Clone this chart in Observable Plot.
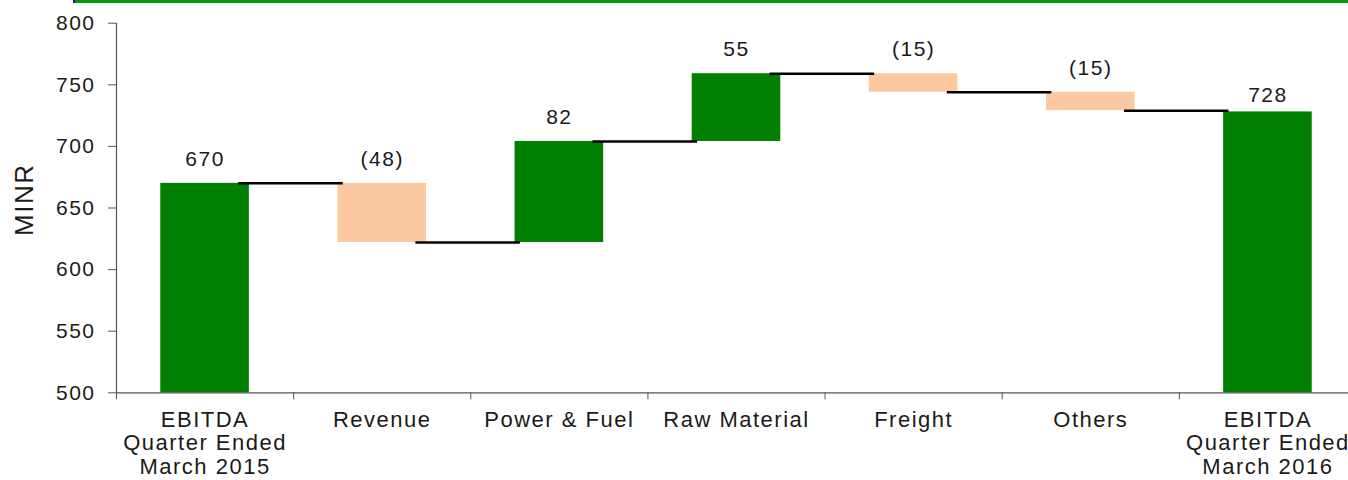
<!DOCTYPE html>
<html>
<head>
<meta charset="utf-8">
<script src="https://cdn.jsdelivr.net/npm/d3@7"></script>
<script src="https://cdn.jsdelivr.net/npm/@observablehq/plot@0.6"></script>
<style>
  html, body { margin: 0; padding: 0; background: #fff; overflow: hidden; width: 1348px; height: 480px; }
  #topline { position: absolute; top: 0; left: 73px; right: 0; height: 3px; background: #009a00; border-left: 2px solid #1010d0; z-index: 2; }
  #chart { position: absolute; top: 0; left: 0; width: 1356px; }
  #chart svg { max-width: none !important; }
  #chart svg text { letter-spacing: 1.5px; }
</style>
</head>
<body>
<div id="topline"></div>
<div id="chart"></div>
<script>
// EBITDA bridge, quarter ended March 2015 -> March 2016 (MINR)
const categories = [
  "EBITDA\nQuarter Ended\nMarch 2015",
  "Revenue",
  "Power & Fuel",
  "Raw Material",
  "Freight",
  "Others",
  "EBITDA\nQuarter Ended\nMarch 2016"
];
const kinds = ["total", "change", "change", "change", "change", "change", "total"];
const values = [670, -48, 82, 55, -15, -15, 728];
const yDomain = [500, 800];
const yTicks = [500, 550, 600, 650, 700, 750, 800];

const green = "#007f00";
const peach = "#fbc8a0";

// Build waterfall segments: totals rise from the axis base, changes float on the running total
let running = 0;
const rows = values.map((v, i) => {
  let lo, hi, end;
  if (kinds[i] === "total") {
    lo = yDomain[0]; hi = v; end = v;
  } else {
    end = running + v;
    lo = Math.min(running, end); hi = Math.max(running, end);
  }
  running = end;
  return {
    i, value: v, lo, hi, end,
    fill: v < 0 ? peach : green,
    label: v < 0 ? `(${-v})` : String(v)
  };
});

// Connectors run from each bar to the next at the running level
const links = rows.slice(0, -1).map(d => ({level: d.end, from: d.i + 0.69, to: d.i + 1.28}));

// Category boundaries carry the x-axis tick marks
const boundaries = d3.range(categories.length + 1);

const chart = Plot.plot({
  width: 1356,
  height: 480,
  marginLeft: 116,
  marginRight: 0,
  marginTop: 22.7,
  marginBottom: 87.7,
  style: {fontFamily: "'Liberation Sans', Arial, sans-serif", color: "#1a1a1a", background: "transparent", maxWidth: "none"},
  x: {domain: [0, categories.length], axis: null},
  y: {domain: yDomain, axis: null},
  marks: [
    Plot.axisY(yTicks, {tickSize: 8, tickPadding: 13, fontSize: 21, stroke: "#555", label: null}),
    Plot.axisX(boundaries, {tickSize: 7, tickFormat: () => "", stroke: "#555", label: null}),
    Plot.ruleX([0], {stroke: "#555", strokeWidth: 1.2}),
    Plot.ruleY([yDomain[0]], {stroke: "#555", strokeWidth: 1.2}),
    Plot.rectY(rows, {x1: d => d.i + 0.25, x2: d => d.i + 0.75, y1: "lo", y2: "hi", fill: "fill"}),
    Plot.ruleY(links, {y: "level", x1: "from", x2: "to", stroke: "#000", strokeWidth: 2.5}),
    Plot.text(rows.slice(0, -1), {x: d => d.i + 0.5, y: "hi", text: "label", dy: -24, fontSize: 21, fill: "#1a1a1a"}),
    Plot.text(rows.slice(-1), {x: d => d.i + 0.5, y: "hi", text: "label", dy: -17, fontSize: 21, fill: "#1a1a1a"}),
    Plot.text(categories, {x: (d, i) => i + 0.5, text: d => d, frameAnchor: "bottom", lineAnchor: "top", dy: 17, fontSize: 22, lineHeight: 1.08, fill: "#1a1a1a"}),
    Plot.text(["MINR"], {frameAnchor: "left", text: d => d, rotate: -90, dx: -92, dy: 28, fontSize: 26, fill: "#1a1a1a"})
  ]
});

document.getElementById("chart").appendChild(chart);
</script>
</body>
</html>
